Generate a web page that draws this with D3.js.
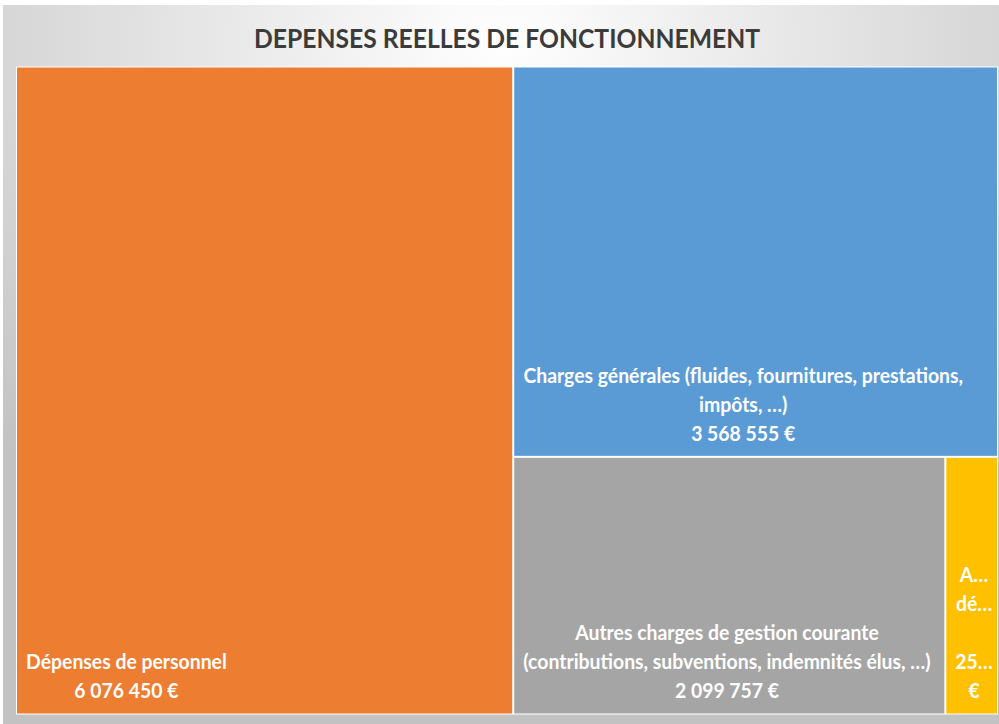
<!DOCTYPE html>
<html>
<head>
<meta charset="utf-8">
<script src="https://cdn.jsdelivr.net/npm/d3@7/dist/d3.min.js"></script>
<style>
  html, body { margin: 0; padding: 0; background: #ffffff; }
  svg { display: block; }
</style>
</head>
<body>
<svg id="chart" width="999" height="724"></svg>
<script>
// ---- data ----
const title = "DEPENSES REELLES DE FONCTIONNEMENT";
const categories = [
  "Dépenses de personnel",
  "Charges générales (fluides, fournitures, prestations, impôts, …)",
  "Autres charges de gestion courante (contributions, subventions, indemnités élus, …)",
  "Autres dépenses"
];
const values = [6076450, 3568555, 2099757, 256000];
const colors = ["#ED7D31", "#5B9BD5", "#A5A5A5", "#FFC000"];
// label lines as displayed (wrapped / truncated)
const nameLines = [
  ["Dépenses de personnel"],
  ["Charges générales (fluides, fournitures, prestations,", "impôts, …)"],
  ["Autres charges de gestion courante", "(contributions, subventions, indemnités élus, …)"],
  ["A…", "dé…", ""]
];
const valueLines = [null, null, null, ["25…", "€"]]; // null => formatted from values

// ---- drawing ----
const W = 999, H = 724;
const svg = d3.select("#chart");
const defs = svg.append("defs");
const grad = defs.append("radialGradient").attr("id", "bg")
  .attr("cx", "50%").attr("cy", "5%").attr("r", "75%")
  .attr("gradientUnits", "objectBoundingBox");
grad.append("stop").attr("offset", "0%").attr("stop-color", "#ffffff");
grad.append("stop").attr("offset", "100%").attr("stop-color", "#c2c2c2");

svg.append("rect").attr("x", 0).attr("y", 0).attr("width", W).attr("height", H).attr("fill", "#ffffff");
svg.append("rect").attr("x", 3).attr("y", 5).attr("width", W - 3).attr("height", H - 5).attr("fill", "url(#bg)");

svg.append("text")
  .attr("x", 507).attr("y", 48)
  .attr("text-anchor", "middle")
  .attr("font-family", "Lato, 'Open Sans', sans-serif")
  .attr("font-weight", "700")
  .attr("font-size", 26)
  .attr("fill", "#3b3b3b")
  .attr("textLength", 506)
  .attr("lengthAdjust", "spacingAndGlyphs")
  .text(title);

const fmt = v => d3.format(",")(v).replace(/,/g, " ") + " €";

const root = d3.hierarchy({children: categories.map((c, i) => ({name: c, value: values[i], i}))})
  .sum(d => d.value || 0)
  .sort((a, b) => b.value - a.value);

const x0 = 16, y0 = 66.5, tw = 982, th = 648;
d3.treemap().tile(d3.treemapSquarify.ratio(1)).size([tw, th]).paddingInner(0).round(false)(root);

const g = svg.append("g").attr("transform", `translate(${x0},${y0})`);
// white plot background/border
g.append("rect").attr("x", 0).attr("y", 0).attr("width", tw).attr("height", th).attr("fill", "#ffffff");

const leaves = g.selectAll("g.leaf").data(root.leaves()).join("g").attr("class", "leaf");
leaves.append("rect")
  .attr("x", d => d.x0 + 1)
  .attr("y", d => d.y0 + 1)
  .attr("width", d => Math.max(0, d.x1 - d.x0 - 2))
  .attr("height", d => Math.max(0, d.y1 - d.y0 - 2))
  .attr("fill", d => colors[d.data.i]);

const sx = 0.97, fs = 20, lh = 29;
leaves.each(function(d) {
  const i = d.data.i;
  const lines = nameLines[i].concat(valueLines[i] || [fmt(values[i])]);
  const left = d.x0 + 10;
  const lastBase = d.y1 - 16;
  const tg = d3.select(this).append("g");
  const texts = tg.selectAll("text").data(lines).join("text")
    .attr("font-family", "Lato, 'Open Sans', sans-serif")
    .attr("font-weight", "700")
    .attr("font-size", fs)
    .attr("fill", "#ffffff")
    .attr("text-anchor", "middle")
    .attr("y", (t, k) => lastBase - (lines.length - 1 - k) * lh)
    .text(t => t);
  let maxW = 0;
  texts.each(function() { maxW = Math.max(maxW, this.getComputedTextLength()); });
  texts.attr("x", maxW / 2);
  tg.attr("transform", `translate(${left},0) scale(${sx},1)`);
});
</script>
</body>
</html>
